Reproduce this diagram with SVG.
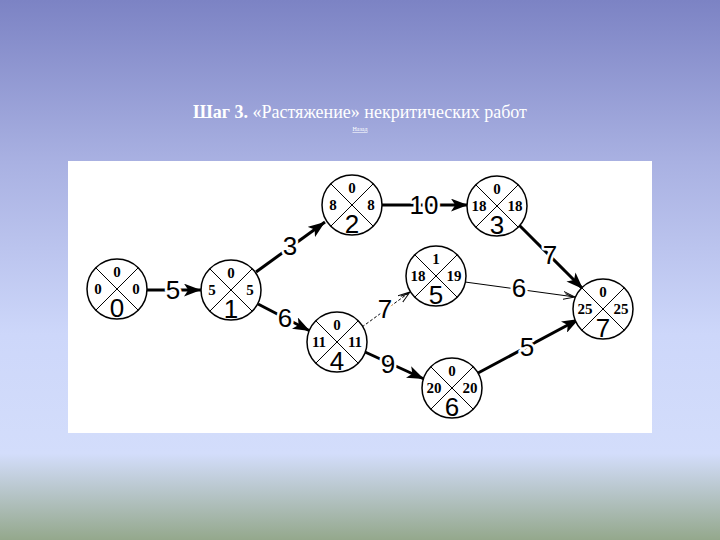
<svg xmlns="http://www.w3.org/2000/svg" width="720" height="540" viewBox="0 0 720 540">
<defs>
<linearGradient id="bg" x1="0" y1="0" x2="0" y2="1">
<stop offset="0" stop-color="#7c83c4"/>
<stop offset="0.3" stop-color="#a9b1e2"/>
<stop offset="0.62" stop-color="#cdd7fa"/>
<stop offset="0.84" stop-color="#d3ddfb"/>
<stop offset="1" stop-color="#94a88c"/>
</linearGradient>
<marker id="ahb" viewBox="0 0 16 12" refX="16" refY="6" markerWidth="17" markerHeight="13" markerUnits="userSpaceOnUse" orient="auto">
<path d="M0,0 L16,6 L0,12 L4,6 Z" fill="#000"/>
</marker>
<marker id="aho" viewBox="0 0 12 10" refX="12" refY="5" markerWidth="12" markerHeight="10" markerUnits="userSpaceOnUse" orient="auto">
<path d="M0,1 L12,5 L0,9 M2,3 L10,5.5" fill="none" stroke="#000" stroke-width="1"/>
</marker>
</defs>
<style>
.c{fill:#fff;stroke:#000;stroke-width:1.5}
.x{stroke:#000;stroke-width:1}
.s{font-family:"Liberation Serif",serif;font-weight:bold;font-size:15px;text-anchor:middle;fill:#000}
.b{font-family:"Liberation Sans",Arial,sans-serif;font-size:26px;text-anchor:middle;fill:#000}
.e{stroke:#000;stroke-width:3;fill:none;marker-end:url(#ahb)}
.t{stroke:#000;stroke-width:1;fill:none;marker-end:url(#aho)}
.d{stroke:#000;stroke-width:1;stroke-dasharray:3,2;fill:none;marker-end:url(#aho)}
.l{font-family:"Liberation Sans",Arial,sans-serif;font-size:26px;text-anchor:middle;fill:#000;stroke:#fff;stroke-width:5;paint-order:stroke;stroke-linejoin:round}
.ttl{font-family:"Liberation Serif","Times New Roman",serif;font-size:18px;fill:#fff;text-anchor:middle}
</style>
<rect width="720" height="540" fill="url(#bg)"/>
<text class="ttl" x="360" y="118"><tspan font-weight="bold">Шаг 3.</tspan> «Растяжение» некритических работ</text>
<text x="360" y="131" font-family="Liberation Serif,serif" font-size="6" fill="#fff" text-anchor="middle" text-decoration="underline">Назад</text>
<rect x="68" y="161" width="584" height="272" fill="#fff"/>
<g id="connectors">
<line class="e" x1="147" y1="290" x2="201" y2="290"/>
<text class="l" x="173" y="299">5</text>
<line class="e" x1="256" y1="272" x2="325" y2="222"/>
<text class="l" x="290" y="255">3</text>
<line class="e" x1="258" y1="304" x2="310" y2="331"/>
<text class="l" x="285" y="327">6</text>
<line class="e" x1="382" y1="205" x2="468" y2="205"/>
<text class="l" x="424" y="214">10</text>
<line class="e" x1="519" y1="225" x2="583" y2="289"/>
<text class="l" x="550" y="264">7</text>
<line class="d" x1="362" y1="327" x2="410" y2="292"/>
<text class="l" x="385" y="318">7</text>
<line class="t" x1="465" y1="282" x2="575" y2="297"/>
<text class="l" x="519" y="297">6</text>
<line class="e" x1="365" y1="352" x2="424" y2="379"/>
<text class="l" x="388" y="373">9</text>
<line class="e" x1="478" y1="373" x2="579" y2="319"/>
<text class="l" x="527" y="356">5</text>
</g>
<g id="n0" transform="translate(117,289)">
<circle class="c" r="30"/><line class="x" x1="-21.2" y1="-21.2" x2="21.2" y2="21.2"/><line class="x" x1="21.2" y1="-21.2" x2="-21.2" y2="21.2"/>
<text class="s" x="0" y="-12">0</text><text class="s" x="-19" y="5">0</text><text class="s" x="19" y="5">0</text><text class="b" x="0" y="28">0</text>
</g>
<g id="n1" transform="translate(231,290)">
<circle class="c" r="30"/><line class="x" x1="-21.2" y1="-21.2" x2="21.2" y2="21.2"/><line class="x" x1="21.2" y1="-21.2" x2="-21.2" y2="21.2"/>
<text class="s" x="0" y="-12">0</text><text class="s" x="-19" y="5">5</text><text class="s" x="19" y="5">5</text><text class="b" x="0" y="28">1</text>
</g>
<g id="n2" transform="translate(352,205)">
<circle class="c" r="30"/><line class="x" x1="-21.2" y1="-21.2" x2="21.2" y2="21.2"/><line class="x" x1="21.2" y1="-21.2" x2="-21.2" y2="21.2"/>
<text class="s" x="0" y="-12">0</text><text class="s" x="-19" y="5">8</text><text class="s" x="19" y="5">8</text><text class="b" x="0" y="28">2</text>
</g>
<g id="n3" transform="translate(497,206)">
<circle class="c" r="30"/><line class="x" x1="-21.2" y1="-21.2" x2="21.2" y2="21.2"/><line class="x" x1="21.2" y1="-21.2" x2="-21.2" y2="21.2"/>
<text class="s" x="0" y="-12">0</text><text class="s" x="-18" y="5">18</text><text class="s" x="18" y="5">18</text><text class="b" x="0" y="28">3</text>
</g>
<g id="n4" transform="translate(337,342)">
<circle class="c" r="30"/><line class="x" x1="-21.2" y1="-21.2" x2="21.2" y2="21.2"/><line class="x" x1="21.2" y1="-21.2" x2="-21.2" y2="21.2"/>
<text class="s" x="0" y="-12">0</text><text class="s" x="-18" y="5">11</text><text class="s" x="18" y="5">11</text><text class="b" x="0" y="28">4</text>
</g>
<g id="n5" transform="translate(436,276)">
<circle class="c" r="30"/><line class="x" x1="-21.2" y1="-21.2" x2="21.2" y2="21.2"/><line class="x" x1="21.2" y1="-21.2" x2="-21.2" y2="21.2"/>
<text class="s" x="0" y="-12">1</text><text class="s" x="-18" y="5">18</text><text class="s" x="18" y="5">19</text><text class="b" x="0" y="28">5</text>
</g>
<g id="n6" transform="translate(452,388)">
<circle class="c" r="30"/><line class="x" x1="-21.2" y1="-21.2" x2="21.2" y2="21.2"/><line class="x" x1="21.2" y1="-21.2" x2="-21.2" y2="21.2"/>
<text class="s" x="0" y="-12">0</text><text class="s" x="-18" y="5">20</text><text class="s" x="18" y="5">20</text><text class="b" x="0" y="28">6</text>
</g>
<g id="n7" transform="translate(603,309)">
<circle class="c" r="30"/><line class="x" x1="-21.2" y1="-21.2" x2="21.2" y2="21.2"/><line class="x" x1="21.2" y1="-21.2" x2="-21.2" y2="21.2"/>
<text class="s" x="0" y="-12">0</text><text class="s" x="-18" y="5">25</text><text class="s" x="18" y="5">25</text><text class="b" x="0" y="28">7</text>
</g>
</svg>
